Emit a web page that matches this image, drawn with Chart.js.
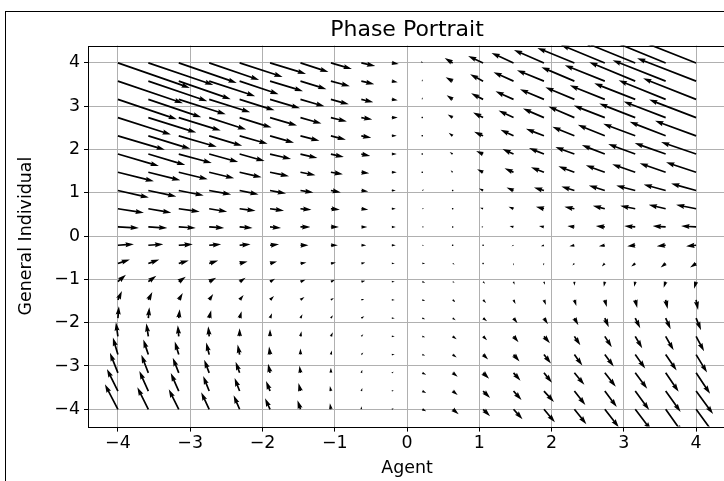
<!DOCTYPE html>
<html lang="en">
<head>
<meta charset="UTF-8">
<title>Phase Portrait</title>
<script src="https://cdn.jsdelivr.net/npm/chart.js"></script>
<style>
  html, body { margin: 0; padding: 0; overflow: hidden; background: #fff; }
  .frame { position: absolute; left: 5px; top: 11px; width: 900px; height: 600px;
           border-left: 1px solid #000; border-top: 1px solid #000; }
  #chart { position: absolute; left: 0; top: 0; }
</style>
</head>
<body>
<div class="frame"></div>
<canvas id="chart" width="814" height="481"></canvas>
<script>
  // grid where the arrows start
  const gridX = [-4, -3.579, -3.158, -2.737, -2.316, -1.895, -1.474, -1.053, -0.632, -0.211,
                 0.211, 0.632, 1.053, 1.474, 1.895, 2.316, 2.737, 3.158, 3.579, 4];
  const gridY = [-4, -3.579, -3.158, -2.737, -2.316, -1.895, -1.474, -1.053, -0.632, -0.211,
                 0.211, 0.632, 1.053, 1.474, 1.895, 2.316, 2.737, 3.158, 3.579, 4];
  const xTicks = [-4, -3, -2, -1, 0, 1, 2, 3, 4];
  const yTicks = [-4, -3, -2, -1, 0, 1, 2, 3, 4];

  // U[i][j], V[i][j] : vector at (gridX[j], gridY[i])
  const U = [
    [-1.3,-1.1,-1.0,-0.8,-0.6,-0.5,-0.3,-0.1,0.0,0.2,0.4,0.6,0.7,0.9,1.1,1.2,1.4,1.6,1.7,1.9],
    [-1.1,-0.9,-0.8,-0.6,-0.5,-0.4,-0.2,-0.1,0.1,0.2,0.4,0.5,0.7,0.8,1.0,1.1,1.2,1.4,1.5,1.7],
    [-0.8,-0.7,-0.6,-0.5,-0.4,-0.2,-0.1,0.0,0.1,0.2,0.4,0.5,0.6,0.7,0.8,1.0,1.1,1.2,1.3,1.4],
    [-0.5,-0.5,-0.4,-0.3,-0.2,-0.1,0.0,0.1,0.2,0.3,0.3,0.4,0.5,0.6,0.7,0.8,0.9,1.0,1.1,1.1],
    [-0.2,-0.2,-0.1,-0.1,0.0,0.0,0.1,0.2,0.2,0.3,0.3,0.4,0.4,0.5,0.6,0.6,0.7,0.7,0.8,0.8],
    [0.1,0.1,0.1,0.2,0.2,0.2,0.2,0.2,0.3,0.3,0.3,0.3,0.4,0.4,0.4,0.4,0.4,0.5,0.5,0.5],
    [0.4,0.4,0.4,0.4,0.4,0.4,0.4,0.3,0.3,0.3,0.3,0.3,0.3,0.2,0.2,0.2,0.2,0.2,0.2,0.2],
    [0.8,0.8,0.7,0.7,0.6,0.5,0.5,0.4,0.4,0.3,0.3,0.2,0.2,0.1,0.1,0.0,-0.1,-0.1,-0.2,-0.2],
    [1.2,1.1,1.0,0.9,0.8,0.7,0.6,0.5,0.4,0.3,0.3,0.2,0.1,0.0,-0.1,-0.2,-0.3,-0.4,-0.5,-0.6],
    [1.6,1.5,1.4,1.2,1.1,0.9,0.8,0.7,0.5,0.4,0.2,0.1,-0.1,-0.2,-0.3,-0.5,-0.6,-0.8,-0.9,-1.0],
    [2.1,1.9,1.7,1.5,1.3,1.1,1.0,0.8,0.6,0.4,0.2,0.0,-0.2,-0.4,-0.5,-0.7,-0.9,-1.1,-1.3,-1.5],
    [2.6,2.3,2.1,1.8,1.6,1.4,1.1,0.9,0.7,0.4,0.2,-0.1,-0.3,-0.5,-0.8,-1.0,-1.2,-1.5,-1.7,-2.0],
    [3.1,2.8,2.5,2.2,1.9,1.6,1.3,1.0,0.7,0.4,0.2,-0.1,-0.4,-0.7,-1.0,-1.3,-1.6,-1.9,-2.2,-2.5],
    [3.6,3.2,2.9,2.5,2.2,1.9,1.5,1.2,0.8,0.5,0.1,-0.2,-0.6,-0.9,-1.3,-1.6,-1.9,-2.3,-2.6,-3.0],
    [4.1,3.7,3.3,2.9,2.5,2.1,1.7,1.3,0.9,0.5,0.1,-0.3,-0.7,-1.1,-1.5,-1.9,-2.3,-2.7,-3.1,-3.5],
    [4.7,4.2,3.8,3.3,2.8,2.4,1.9,1.5,1.0,0.5,0.1,-0.4,-0.9,-1.3,-1.8,-2.2,-2.7,-3.2,-3.6,-4.1],
    [5.3,4.8,4.2,3.7,3.2,2.7,2.1,1.6,1.1,0.6,0.0,-0.5,-1.0,-1.5,-2.1,-2.6,-3.1,-3.6,-4.2,-4.7],
    [5.9,5.3,4.7,4.1,3.5,3.0,2.4,1.8,1.2,0.6,0.0,-0.6,-1.2,-1.8,-2.4,-2.9,-3.5,-4.1,-4.7,-5.3],
    [6.5,5.9,5.2,4.6,3.9,3.3,2.6,1.9,1.3,0.6,0.0,-0.7,-1.3,-2.0,-2.7,-3.3,-4.0,-4.6,-5.3,-5.9],
    [7.2,6.5,5.8,5.0,4.3,3.6,2.8,2.1,1.4,0.7,-0.1,-0.8,-1.5,-2.2,-3.0,-3.7,-4.4,-5.2,-5.9,-6.6]
  ];
  const V = [
    [2.5,2.2,2.0,1.7,1.4,1.1,0.9,0.6,0.3,0.1,-0.2,-0.5,-0.7,-1.0,-1.3,-1.5,-1.8,-2.1,-2.4,-2.6],
    [2.2,2.0,1.8,1.5,1.3,1.0,0.8,0.5,0.3,0.1,-0.2,-0.4,-0.7,-0.9,-1.1,-1.4,-1.6,-1.9,-2.1,-2.3],
    [2.0,1.8,1.5,1.3,1.1,0.9,0.7,0.5,0.3,0.1,-0.2,-0.4,-0.6,-0.8,-1.0,-1.2,-1.4,-1.6,-1.9,-2.1],
    [1.7,1.5,1.3,1.2,1.0,0.8,0.6,0.4,0.2,0.0,-0.1,-0.3,-0.5,-0.7,-0.9,-1.1,-1.2,-1.4,-1.6,-1.8],
    [1.4,1.3,1.1,1.0,0.8,0.7,0.5,0.4,0.2,0.0,-0.1,-0.3,-0.4,-0.6,-0.7,-0.9,-1.1,-1.2,-1.4,-1.5],
    [1.2,1.1,0.9,0.8,0.7,0.5,0.4,0.3,0.2,0.0,-0.1,-0.2,-0.3,-0.5,-0.6,-0.7,-0.9,-1.0,-1.1,-1.2],
    [0.9,0.8,0.7,0.6,0.5,0.4,0.3,0.2,0.1,0.0,-0.1,-0.2,-0.3,-0.4,-0.5,-0.6,-0.7,-0.8,-0.9,-1.0],
    [0.7,0.6,0.5,0.4,0.4,0.3,0.2,0.2,0.1,0.0,-0.1,-0.1,-0.2,-0.3,-0.3,-0.4,-0.5,-0.5,-0.6,-0.7],
    [0.4,0.4,0.3,0.3,0.2,0.2,0.1,0.1,0.1,0.0,0.0,-0.1,-0.1,-0.2,-0.2,-0.2,-0.3,-0.3,-0.4,-0.4],
    [0.1,0.1,0.1,0.1,0.1,0.1,0.0,0.0,0.0,0.0,0.0,0.0,0.0,-0.1,-0.1,-0.1,-0.1,-0.1,-0.1,-0.1],
    [-0.1,-0.1,-0.1,-0.1,-0.1,-0.1,0.0,0.0,0.0,0.0,0.0,0.0,0.0,0.1,0.1,0.1,0.1,0.1,0.1,0.1],
    [-0.4,-0.4,-0.3,-0.3,-0.2,-0.2,-0.1,-0.1,-0.1,0.0,0.0,0.1,0.1,0.2,0.2,0.2,0.3,0.3,0.4,0.4],
    [-0.7,-0.6,-0.5,-0.4,-0.4,-0.3,-0.2,-0.2,-0.1,0.0,0.1,0.1,0.2,0.3,0.3,0.4,0.5,0.5,0.6,0.7],
    [-0.9,-0.8,-0.7,-0.6,-0.5,-0.4,-0.3,-0.2,-0.1,0.0,0.1,0.2,0.3,0.4,0.5,0.6,0.7,0.8,0.9,1.0],
    [-1.2,-1.1,-0.9,-0.8,-0.7,-0.5,-0.4,-0.3,-0.2,0.0,0.1,0.2,0.3,0.5,0.6,0.7,0.9,1.0,1.1,1.2],
    [-1.4,-1.3,-1.1,-1.0,-0.8,-0.7,-0.5,-0.4,-0.2,0.0,0.1,0.3,0.4,0.6,0.7,0.9,1.1,1.2,1.4,1.5],
    [-1.7,-1.5,-1.3,-1.2,-1.0,-0.8,-0.6,-0.4,-0.2,0.0,0.1,0.3,0.5,0.7,0.9,1.1,1.2,1.4,1.6,1.8],
    [-2.0,-1.8,-1.5,-1.3,-1.1,-0.9,-0.7,-0.5,-0.3,-0.1,0.2,0.4,0.6,0.8,1.0,1.2,1.4,1.6,1.9,2.1],
    [-2.2,-2.0,-1.8,-1.5,-1.3,-1.0,-0.8,-0.5,-0.3,-0.1,0.2,0.4,0.7,0.9,1.1,1.4,1.6,1.9,2.1,2.3],
    [-2.5,-2.2,-2.0,-1.7,-1.4,-1.1,-0.9,-0.6,-0.3,-0.1,0.2,0.5,0.7,1.0,1.3,1.5,1.8,2.1,2.4,2.6]
  ];

  const FONT = 'DejaVu Sans';
  const pxPerUnit = 10;   // arrow length scale (like quiver's scale)
  const shaft = 1.7;      // shaft width in px

  // matplotlib-style quiver arrow, tail at (x0,y0)
  function drawArrow(ctx, x0, y0, dx, dy) {
    const len = Math.hypot(dx, dy);
    const hl = 5 * shaft, hal = 4.5 * shaft, hw = 1.5 * shaft, sw = 0.5 * shaft;
    ctx.beginPath();
    if (len < shaft) {
      for (let k = 0; k < 6; k++) {
        const a = k * Math.PI / 3;
        const px = x0 + Math.cos(a) * shaft * 0.5, py = y0 + Math.sin(a) * shaft * 0.5;
        k === 0 ? ctx.moveTo(px, py) : ctx.lineTo(px, py);
      }
      ctx.closePath();
      ctx.fill();
      return;
    }
    let pts;
    if (len >= hl) {
      pts = [[0, sw], [len - hal, sw], [len - hl, hw], [len, 0], [len - hl, -hw], [len - hal, -sw], [0, -sw]];
    } else {
      const s = len / hl;
      pts = [[0, sw], [hl - hal, sw], [0, hw], [hl, 0], [0, -hw], [hl - hal, -sw], [0, -sw]]
        .map(p => [p[0] * s, p[1] * s]);
    }
    const c = dx / len, sn = dy / len;
    pts.forEach((p, k) => {
      const px = x0 + p[0] * c - p[1] * sn;
      const py = y0 + p[0] * sn + p[1] * c;
      k === 0 ? ctx.moveTo(px, py) : ctx.lineTo(px, py);
    });
    ctx.closePath();
    ctx.fill();
  }

  const quiver = {
    id: 'quiver',
    afterDatasetsDraw(chart) {
      const { ctx, chartArea: a, scales: { x, y } } = chart;
      ctx.save();
      ctx.beginPath();
      ctx.rect(a.left, a.top, a.right - a.left, a.bottom - a.top);
      ctx.clip();
      ctx.fillStyle = '#000';
      gridY.forEach((gy, i) => {
        gridX.forEach((gx, j) => {
          drawArrow(ctx, x.getPixelForValue(gx), y.getPixelForValue(gy),
                    U[i][j] * pxPerUnit, -V[i][j] * pxPerUnit);
        });
      });
      ctx.restore();
    }
  };

  const spines = {
    id: 'spines',
    afterDraw(chart) {
      const { ctx, chartArea: a } = chart;
      ctx.save();
      ctx.strokeStyle = '#000';
      ctx.lineWidth = 1;
      ctx.strokeRect(Math.round(a.left) - 0.5, Math.round(a.top) + 0.5,
                     Math.round(a.right - a.left) + 1, Math.round(a.bottom - a.top));
      ctx.restore();
    }
  };

  const minus = v => (v < 0 ? '\u2212' + Math.abs(v) : String(v));

  new Chart(document.getElementById('chart'), {
    type: 'scatter',
    data: { datasets: [] },
    plugins: [quiver, spines],
    options: {
      responsive: false,
      animation: false,
      devicePixelRatio: 1,
      layout: { padding: 0 },
      plugins: {
        legend: { display: false },
        tooltip: { enabled: false },
        title: {
          display: true,
          text: 'Phase Portrait',
          color: '#000',
          font: { family: FONT, size: 22, weight: 'normal' },
          padding: { top: 16.8, bottom: 2.4 }
        }
      },
      scales: {
        x: {
          type: 'linear', min: -4.4, max: 4.4,
          afterBuildTicks: s => { s.ticks = xTicks.map(v => ({ value: v })); },
          afterFit: s => { s.height = 54.4; },
          border: { display: false },
          grid: { color: '#b0b0b0', lineWidth: 1, tickColor: '#000', tickLength: 5, tickWidth: 1 },
          ticks: { color: '#000', font: { family: FONT, size: 17.4 }, padding: 1,
                   maxRotation: 0, autoSkip: false, callback: minus },
          title: { display: true, text: 'Agent', color: '#000',
                   font: { family: FONT, size: 17.4 }, padding: { top: 0, bottom: 2 } }
        },
        y: {
          type: 'linear', min: -4.4, max: 4.4,
          afterBuildTicks: s => { s.ticks = yTicks.map(v => ({ value: v })); },
          afterFit: s => { s.width = 89; },
          border: { display: false },
          grid: { color: '#b0b0b0', lineWidth: 1, tickColor: '#000', tickLength: 5, tickWidth: 1 },
          ticks: { color: '#000', font: { family: FONT, size: 17.4 }, padding: 4,
                   autoSkip: false, callback: minus },
          title: { display: true, text: 'General Individual', color: '#000',
                   font: { family: FONT, size: 17.4 }, padding: { top: 16.5, bottom: 0 } }
        },
        // empty right-hand box so the plot and title share the same centre
        pad: {
          type: 'linear', position: 'right', display: true,
          afterFit: s => { s.width = 89; },
          border: { display: false },
          grid: { display: false },
          ticks: { display: false }
        }
      }
    }
  });
</script>
</body>
</html>
